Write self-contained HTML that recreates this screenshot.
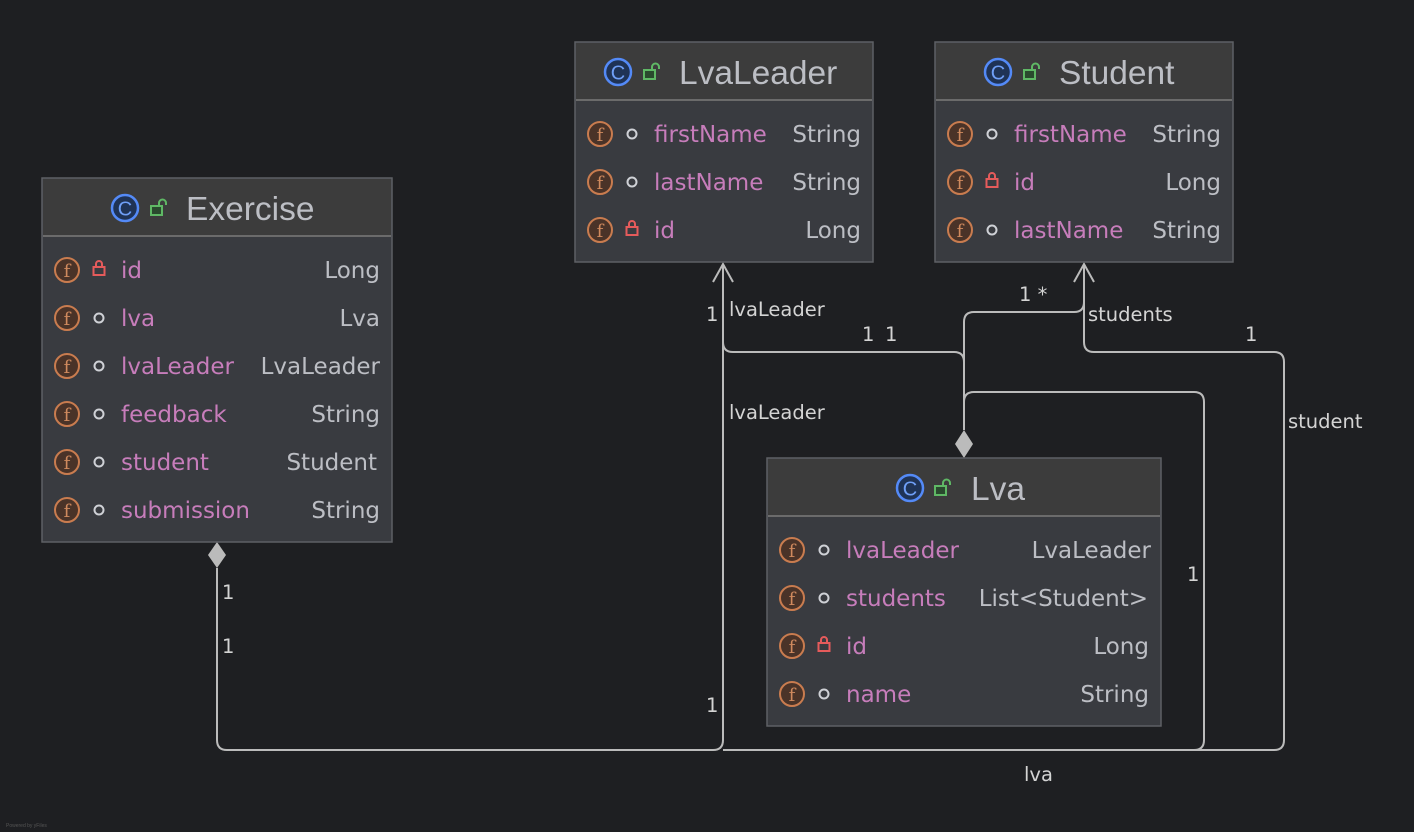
<!DOCTYPE html>
<html><head><meta charset="utf-8"><style>
html,body{margin:0;padding:0;background:#1e1f22;}
svg{display:block;font-family:"Liberation Sans",sans-serif;}
.t{fill:#bcbec4;font-size:33.5px;}
.n{fill:#c77dbb;font-size:23px;font-family:"DejaVu Sans",sans-serif;}
.ty{fill:#bcbec4;font-size:23px;text-anchor:end;font-family:"DejaVu Sans",sans-serif;}
.l{fill:#d4d4d4;font-size:19.5px;font-family:"DejaVu Sans",sans-serif;}
.ln{fill:none;stroke:#bbbbbb;stroke-width:2;}
</style></head><body>
<svg width="1414" height="832" viewBox="0 0 1414 832">
<defs>
<g id="fi"><circle r="12" fill="#4a3328" stroke="#c97c4f" stroke-width="2"/><text x="0" y="7" text-anchor="middle" font-size="18" fill="#d08a5e" font-family="DejaVu Serif,serif">f</text></g>
<g id="ci"><circle r="13" fill="#1f3356" stroke="#548af7" stroke-width="2.5"/><text x="0" y="7.5" text-anchor="middle" font-size="20" fill="#6f9ff7">C</text></g>
<g id="pub"><rect x="-7" y="-2" width="11" height="9" fill="#2a4a2e" stroke="#5fb865" stroke-width="2"/><path d="M1,-2 V-5 a3.5,3.5 0 0 1 7,0 V-3" fill="none" stroke="#5fb865" stroke-width="2"/></g>
<g id="pri"><rect x="-5.5" y="-1" width="11" height="8" fill="none" stroke="#e55b5b" stroke-width="2"/><path d="M-3,-1 V-4 a3,3 0 0 1 6,0 V-1" fill="none" stroke="#e55b5b" stroke-width="2"/></g>
<g id="pk"><circle r="4.5" fill="none" stroke="#cfd1d6" stroke-width="2"/></g>
</defs>

<!-- connectors -->
<path class="ln" d="M217,568 V740 Q217,750 227,750 H713 Q723,750 723,740 V264"/>
<path class="ln" d="M964,430 V362 Q964,352 954,352 H733 Q723,352 723,342"/>
<path class="ln" d="M964,362 V322 Q964,312 974,312 H1074 Q1084,312 1084,302 V264"/>
<path class="ln" d="M964,402 Q964,392 974,392 H1194 Q1204,392 1204,402 V740 Q1204,750 1194,750 H723"/>
<path class="ln" d="M1084,300 V342 Q1084,352 1094,352 H1274 Q1284,352 1284,362 V740 Q1284,750 1274,750 H1194"/>
<path class="ln" d="M713,282 L723,264 L733,282"/>
<path class="ln" d="M1074,282 L1084,264 L1094,282"/>
<path d="M217,542 L226,555 L217,568 L208,555 Z" fill="#bbbbbb"/>
<path d="M964,430 L973,444 L964,458 L955,444 Z" fill="#bbbbbb"/>

<text class="l" x="222" y="599">1</text>
<text class="l" x="222" y="653">1</text>
<text class="l" x="706" y="712">1</text>
<text class="l" x="729" y="419">lvaLeader</text>
<text class="l" x="706" y="321">1</text>
<text class="l" x="729" y="316">lvaLeader</text>
<text class="l" x="862" y="341">1</text>
<text class="l" x="885" y="341">1</text>
<text class="l" x="1019" y="301">1 *</text>
<text class="l" x="1088" y="321">students</text>
<text class="l" x="1245" y="341">1</text>
<text class="l" x="1288" y="428">student</text>
<text class="l" x="1187" y="581">1</text>
<text class="l" x="1024" y="781">lva</text>

<!-- Exercise -->
<rect x="42" y="178" width="350" height="364" fill="#393b40" stroke="#5e6065" stroke-width="1.5"/>
<rect x="43" y="179" width="348" height="57" fill="#3c3c3c"/>
<line x1="43" y1="236" x2="391" y2="236" stroke="#6b6b6b" stroke-width="2"/>
<use href="#ci" x="125" y="208"/><use href="#pub" x="158" y="208"/>
<text class="t" x="186" y="220">Exercise</text>
<use href="#fi" x="67" y="270"/><use href="#pri" x="99" y="268"/><text class="n" x="121" y="278">id</text><text class="ty" x="380" y="278">Long</text>
<use href="#fi" x="67" y="318"/><use href="#pk" x="99" y="318"/><text class="n" x="121" y="326">lva</text><text class="ty" x="380" y="326">Lva</text>
<use href="#fi" x="67" y="366"/><use href="#pk" x="99" y="366"/><text class="n" x="121" y="374">lvaLeader</text><text class="ty" x="380" y="374">LvaLeader</text>
<use href="#fi" x="67" y="414"/><use href="#pk" x="99" y="414"/><text class="n" x="121" y="422">feedback</text><text class="ty" x="380" y="422">String</text>
<use href="#fi" x="67" y="462"/><use href="#pk" x="99" y="462"/><text class="n" x="121" y="470">student</text><text class="ty" x="377" y="470">Student</text>
<use href="#fi" x="67" y="510"/><use href="#pk" x="99" y="510"/><text class="n" x="121" y="518">submission</text><text class="ty" x="380" y="518">String</text>

<!-- LvaLeader -->
<rect x="575" y="42" width="298" height="220" fill="#393b40" stroke="#5e6065" stroke-width="1.5"/>
<rect x="576" y="43" width="296" height="57" fill="#3c3c3c"/>
<line x1="576" y1="100" x2="872" y2="100" stroke="#6b6b6b" stroke-width="2"/>
<use href="#ci" x="618" y="72"/><use href="#pub" x="651" y="72"/>
<text class="t" x="679" y="84">LvaLeader</text>
<use href="#fi" x="600" y="134"/><use href="#pk" x="632" y="134"/><text class="n" x="654" y="142">firstName</text><text class="ty" x="861" y="142">String</text>
<use href="#fi" x="600" y="182"/><use href="#pk" x="632" y="182"/><text class="n" x="654" y="190">lastName</text><text class="ty" x="861" y="190">String</text>
<use href="#fi" x="600" y="230"/><use href="#pri" x="632" y="228"/><text class="n" x="654" y="238">id</text><text class="ty" x="861" y="238">Long</text>

<!-- Student -->
<rect x="935" y="42" width="298" height="220" fill="#393b40" stroke="#5e6065" stroke-width="1.5"/>
<rect x="936" y="43" width="296" height="57" fill="#3c3c3c"/>
<line x1="936" y1="100" x2="1232" y2="100" stroke="#6b6b6b" stroke-width="2"/>
<use href="#ci" x="998" y="72"/><use href="#pub" x="1031" y="72"/>
<text class="t" x="1059" y="84">Student</text>
<use href="#fi" x="960" y="134"/><use href="#pk" x="992" y="134"/><text class="n" x="1014" y="142">firstName</text><text class="ty" x="1221" y="142">String</text>
<use href="#fi" x="960" y="182"/><use href="#pri" x="992" y="180"/><text class="n" x="1014" y="190">id</text><text class="ty" x="1221" y="190">Long</text>
<use href="#fi" x="960" y="230"/><use href="#pk" x="992" y="230"/><text class="n" x="1014" y="238">lastName</text><text class="ty" x="1221" y="238">String</text>

<!-- Lva -->
<rect x="767" y="458" width="394" height="268" fill="#393b40" stroke="#5e6065" stroke-width="1.5"/>
<rect x="768" y="459" width="392" height="57" fill="#3c3c3c"/>
<line x1="768" y1="516" x2="1160" y2="516" stroke="#6b6b6b" stroke-width="2"/>
<use href="#ci" x="910" y="488"/><use href="#pub" x="942" y="488"/>
<text class="t" x="971" y="500">Lva</text>
<use href="#fi" x="792" y="550"/><use href="#pk" x="824" y="550"/><text class="n" x="846" y="558">lvaLeader</text><text class="ty" x="1151" y="558">LvaLeader</text>
<use href="#fi" x="792" y="598"/><use href="#pk" x="824" y="598"/><text class="n" x="846" y="606">students</text><text class="ty" x="1148" y="606">List&lt;Student&gt;</text>
<use href="#fi" x="792" y="646"/><use href="#pri" x="824" y="644"/><text class="n" x="846" y="654">id</text><text class="ty" x="1149" y="654">Long</text>
<use href="#fi" x="792" y="694"/><use href="#pk" x="824" y="694"/><text class="n" x="846" y="702">name</text><text class="ty" x="1149" y="702">String</text>
<text x="6" y="827" font-size="5" fill="#555">Powered by yFiles</text>
</svg>
</body></html>
